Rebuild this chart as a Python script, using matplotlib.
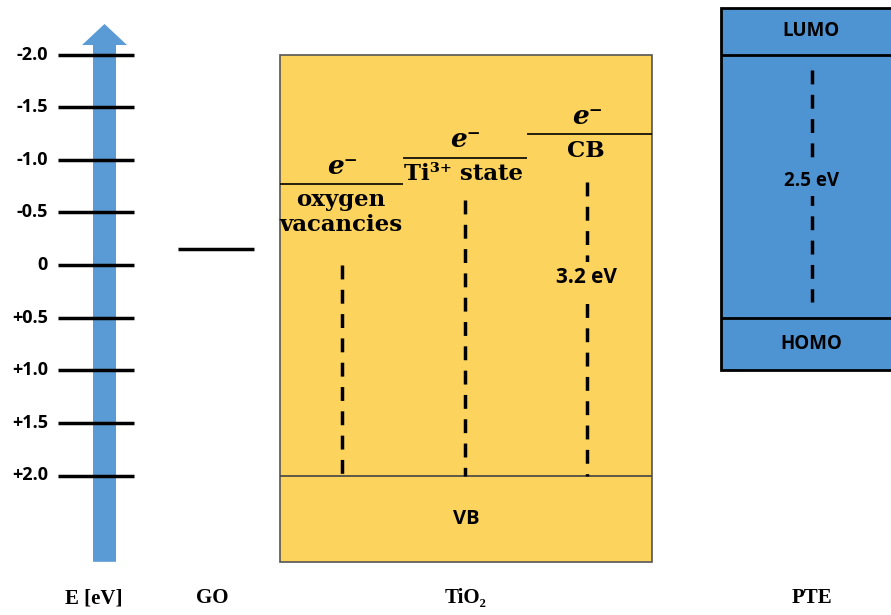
import matplotlib.pyplot as plt
from matplotlib.patches import Rectangle

# energy scale (eV), negative values at the top
tick_values = [-2.0, -1.5, -1.0, -0.5, 0.0, 0.5, 1.0, 1.5, 2.0]
tick_labels = ['-2.0', '-1.5', '-1.0', '-0.5', '0', '+0.5', '+1.0', '+1.5', '+2.0']

go_level = -0.15

tio2_vb = 2.0
tio2_levels = [-0.77, -1.02, -1.24]          # oxygen vacancies, Ti3+, CB
tio2_level_names = ['oxygen\nvacancies', 'Ti³⁺ state', 'CB']
tio2_gap_label = '3.2 eV'

pte_lumo = -2.0
pte_homo = 0.5
pte_gap_label = '2.5 eV'

column_labels = ['E [eV]', 'GO', 'TiO₂', 'PTE']

YELLOW = '#fcd35d'
BLUE = '#4f94d2'
ARROW_BLUE = '#5b9bd5'
SANS = 'Open Sans'
SERIF = ['DejaVu Serif']


def main():
    fig = plt.figure(figsize=(8.91, 6.15), dpi=100)
    ax = fig.add_axes([0, 0, 1, 1])
    # x in layout units (0..891), y in eV
    ax.set_xlim(0, 891)
    ax.set_ylim((615 - 265) / 105.25, -265 / 105.25)
    ax.axis('off')

    # energy arrow
    bottom, head, tip = 2.82, -2.09, -2.29
    ax.fill([93, 116, 116, 127, 104.5, 82, 93],
            [bottom, bottom, head, head, tip, head, head],
            color=ARROW_BLUE, lw=0, zorder=1)
    ax.hlines(tick_values, 58, 134, color='black', lw=2.5, zorder=2)
    for v, lab in zip(tick_values, tick_labels):
        ax.text(48, v, lab, ha='right', va='center', fontsize=13,
                fontweight='bold', family=SANS)

    # GO
    ax.hlines(go_level, 178, 254, color='black', lw=2.5)

    # TiO2 box
    box_top, box_bottom = -2.0, 2.82
    ax.add_patch(Rectangle((280, box_top), 372, box_bottom - box_top,
                           facecolor=YELLOW, edgecolor='#555555', lw=1.2,
                           zorder=1))
    ax.hlines(tio2_vb, 280, 652, color='#444444', lw=1.2, zorder=2)
    ax.text(466, (tio2_vb + box_bottom) / 2, 'VB', ha='center', va='center',
            fontsize=14.5, fontweight='bold', family=SANS)

    seg_x = [(280, 403), (403, 527), (527, 652)]
    mark_x = [342, 465, 587]
    dash_top = [0.0, -0.62, -0.79]
    for (x0, x1), xc, lev, name, dt in zip(seg_x, mark_x, tio2_levels,
                                           tio2_level_names, dash_top):
        ax.hlines(lev, x0, x1, color='black', lw=1.2, zorder=3)
        ax.text(xc, lev - 0.05, 'e⁻', ha='center', va='bottom', fontsize=19,
                fontweight='bold', fontstyle='italic', family=SERIF)
        ax.text(xc - 1, lev + 0.05, name, ha='center', va='top', fontsize=16.5,
                fontweight='bold', family=SERIF, linespacing=1.15)
        ax.vlines(xc, dt, tio2_vb, color='black', lw=2.5,
                  linestyles=(0, (4, 3)), zorder=3)
    ax.text(587, 0.12, tio2_gap_label, ha='center', va='center', fontsize=15,
            fontweight='bold', family=SANS, zorder=4,
            bbox=dict(facecolor=YELLOW, edgecolor='none', pad=4))

    # PTE box
    pte_top, pte_bottom = -2.44, 1.0
    ax.add_patch(Rectangle((721, pte_top), 200, pte_bottom - pte_top,
                           facecolor=BLUE, edgecolor='black', lw=2,
                           zorder=1))
    ax.hlines([pte_lumo, pte_homo], 721, 891, color='black', lw=2, zorder=2)
    ax.text(811, (pte_top + pte_lumo) / 2, 'LUMO', ha='center', va='center',
            fontsize=13.5, fontweight='bold', family=SANS)
    ax.text(811, (pte_homo + pte_bottom) / 2, 'HOMO', ha='center', va='center',
            fontsize=13.5, fontweight='bold', family=SANS)
    ax.vlines(812, pte_lumo + 0.15, pte_homo - 0.15, color='black', lw=2.5,
              linestyles=(0, (4, 3)), zorder=3)
    ax.text(812, (pte_lumo + pte_homo) / 2 - 0.05, pte_gap_label,
            ha='center', va='center', fontsize=13.5, fontweight='bold',
            family=SANS, zorder=4,
            bbox=dict(facecolor=BLUE, edgecolor='none', pad=4))

    # column labels
    label_y = (598 - 265) / 105.25
    for x, lab in zip([94, 212, 466, 812], column_labels):
        ax.text(x, label_y, lab, ha='center', va='center', fontsize=15,
                fontweight='heavy', family=['Liberation Serif', 'DejaVu Serif'])

    fig.savefig('out.png', dpi=100)


if __name__ == "__main__":
    main()
